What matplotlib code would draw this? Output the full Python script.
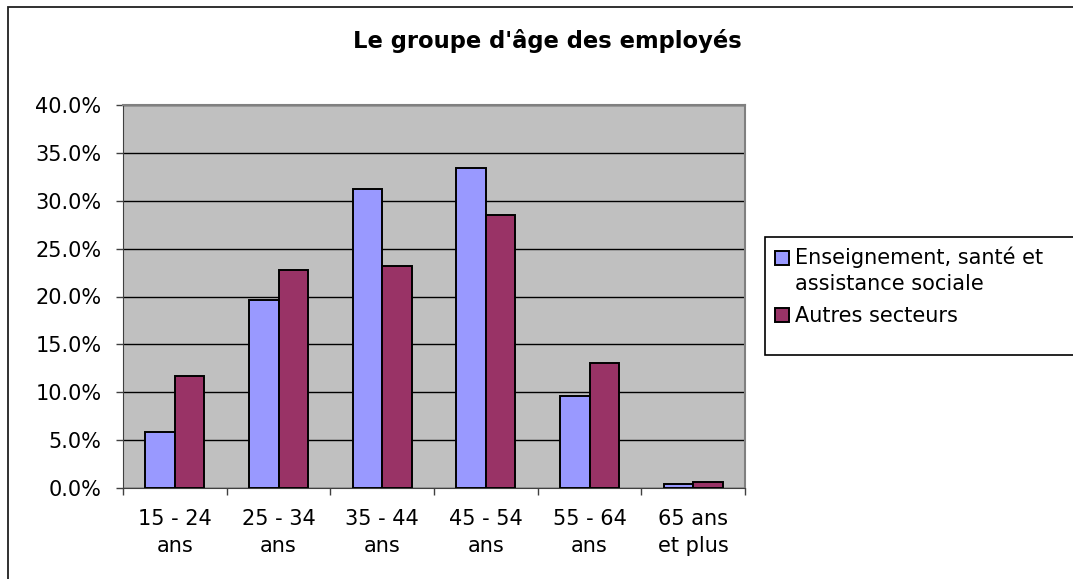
import matplotlib
matplotlib.use("Agg")
import matplotlib.pyplot as plt
from matplotlib.patches import Rectangle
from matplotlib.ticker import FixedLocator, FuncFormatter
from matplotlib.legend_handler import HandlerPatch, update_from_first_child
import numpy as np

categories = ["15 - 24\nans", "25 - 34\nans", "35 - 44\nans", "45 - 54\nans", "55 - 64\nans", "65 ans\net plus"]
series_names = ["Enseignement, santé et\nassistance sociale", "Autres secteurs"]
enseignement = [5.9, 19.6, 31.2, 33.4, 9.6, 0.4]
autres = [11.7, 22.8, 23.2, 28.5, 13.1, 0.6]
y_ticks = [0, 5, 10, 15, 20, 25, 30, 35, 40]
title = "Le groupe d'âge des employés"

plt.rcParams['font.family'] = ['DejaVu Sans']

W, H = 1073, 579
fig = plt.figure(figsize=(W / 100, H / 100), dpi=100)
fig.patch.set_facecolor("white")

# outer chart frame (cut off at right and bottom)
fig.patches.append(Rectangle((8 / W, -0.05), 1.1, 1 - 7 / H + 0.05, transform=fig.transFigure,
                             fill=False, edgecolor="#202020", linewidth=1.3))

ax = fig.add_axes([123 / W, (H - 488) / H, 622 / W, 383 / H])
ax.set_facecolor("#C0C0C0")

x = np.arange(len(categories))
bw = 0.285
b1 = ax.bar(x - bw / 2, enseignement, bw, color="#9999FF", edgecolor="black", linewidth=1.4,
            label=series_names[0], zorder=3)
b2 = ax.bar(x + bw / 2, autres, bw, color="#993366", edgecolor="black", linewidth=1.4,
            label=series_names[1], zorder=3)

ax.set_xlim(-0.5, len(categories) - 0.5)
ax.set_ylim(0, 40)
ax.set_yticks(y_ticks)
ax.yaxis.set_major_formatter(FuncFormatter(lambda v, p: f"{v:.1f}%"))
ax.yaxis.grid(True, color="black", linewidth=1.0, zorder=1)
ax.set_axisbelow(True)

ax.xaxis.set_major_locator(FixedLocator(np.arange(-0.5, len(categories), 1.0)))
ax.xaxis.set_major_formatter(FuncFormatter(lambda v, p: ""))
ax.xaxis.set_minor_locator(FixedLocator(x))
ax.set_xticklabels(categories, minor=True)
ax.tick_params(axis="x", which="major", length=5, width=1, color="#404040", direction="out")
ax.tick_params(axis="x", which="minor", length=0, pad=15, labelsize=15)
ax.tick_params(axis="y", length=5, width=1, color="#404040", direction="out", pad=10.5, labelsize=15)
for lab in ax.get_xticklabels(minor=True):
    lab.set_linespacing(1.45)

for side in ["top", "right"]:
    ax.spines[side].set_color("#808080")
    ax.spines[side].set_linewidth(1.5)
ax.spines["left"].set_color("#404040")
ax.spines["bottom"].set_color("#404040")

fig.text(547 / W, 1 - 41 / H, title, ha="center", va="center", fontsize=16.3, fontweight="bold")

# legend box
fig.patches.append(Rectangle((765 / W, 1 - 355 / H), 0.4, 118 / H, transform=fig.transFigure,
                             fill=True, facecolor="white", edgecolor="black", linewidth=1.2))


def top_square(legend, orig_handle, xdescent, ydescent, width, height, fontsize):
    return Rectangle((-xdescent, -ydescent + 9), width, height)


leg = fig.legend(handles=[b1, b2], labels=series_names, loc="upper left",
                 bbox_to_anchor=(775 / W, 1 - 246 / H), frameon=False, fontsize=15,
                 handlelength=0.65, handleheight=0.65, handletextpad=0.3, labelspacing=0.6,
                 borderaxespad=0, borderpad=0,
                 handler_map={b1: HandlerPatch(patch_func=top_square,
                                               update_func=update_from_first_child)})
for t in leg.get_texts():
    t.set_linespacing(1.4)

fig.savefig("out.png", dpi=100, facecolor="white")
